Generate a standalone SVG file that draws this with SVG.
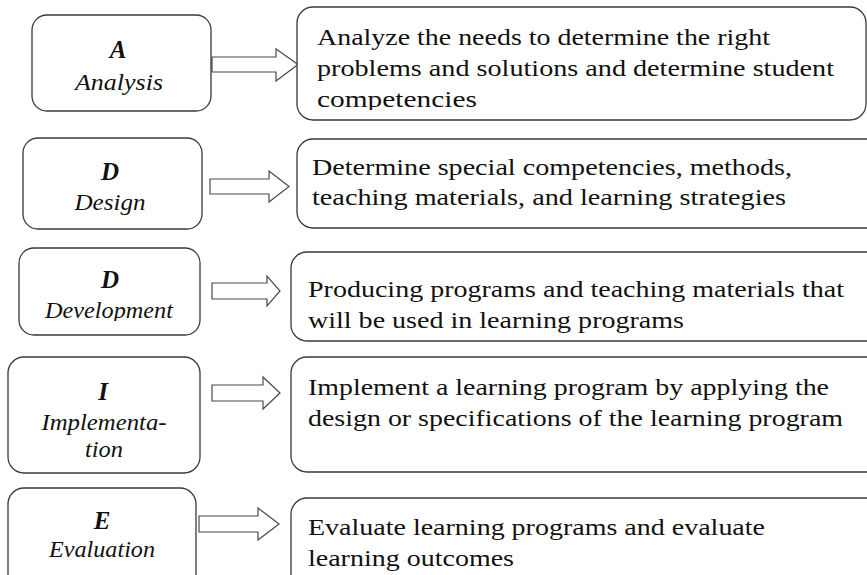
<svg xmlns="http://www.w3.org/2000/svg" width="867" height="575" viewBox="0 0 867 575">
  <style>
    .box { fill: #ffffff; stroke: #3a3a3a; stroke-width: 1.3; }
    .arrow { fill: #ffffff; stroke: #4a4a4a; stroke-width: 1.2; stroke-linejoin: miter; }
    .letter { font-family: "Liberation Serif", "DejaVu Serif", serif; font-size: 25px; font-weight: bold; font-style: italic; fill: #111; text-anchor: middle; }
    .phase { font-family: "Liberation Serif", "DejaVu Serif", serif; font-size: 23px; font-style: italic; fill: #111; text-anchor: middle; }
    .desc { font-family: "Liberation Serif", "DejaVu Serif", serif; font-size: 24px; fill: #111; }
  </style>
  <defs>
    <clipPath id="clipDev"><rect x="0" y="240" width="240" height="81"/></clipPath>
    <clipPath id="clipA3"><rect x="290" y="0" width="577" height="110"/></clipPath>
  </defs>
  <rect x="0" y="0" width="867" height="575" fill="#ffffff"/>

  <g id="connectors">
    <path class="arrow" d="M212,57 H276 V49 L298,64.5 L276,81 V72 H212 Z"/>
    <path class="arrow" d="M210,179 H269 V171 L289,186.5 L269,202 V194 H210 Z"/>
    <path class="arrow" d="M212,283 H267 V276 L280,291 L267,306 V299 H212 Z"/>
    <path class="arrow" d="M212,385 H263 V377 L280,393 L263,409 V401 H212 Z"/>
    <path class="arrow" d="M199,516 H258 V508 L279,524 L258,540 V532 H199 Z"/>
  </g>

  <g id="node-analysis">
    <rect class="box" x="32" y="15" width="179" height="96" rx="15"/>
    <text class="letter" x="118" y="58">A</text>
    <text class="phase" x="119" y="90" textLength="88" lengthAdjust="spacingAndGlyphs">Analysis</text>
  </g>
  <g id="node-design">
    <rect class="box" x="23" y="138" width="179" height="91" rx="15"/>
    <text class="letter" x="110" y="180">D</text>
    <text class="phase" x="110" y="210" textLength="71" lengthAdjust="spacingAndGlyphs">Design</text>
  </g>
  <g id="node-development">
    <rect class="box" x="19" y="248" width="181" height="87" rx="15"/>
    <text class="letter" x="110" y="288">D</text>
    <g clip-path="url(#clipDev)">
      <text class="phase" x="109" y="318" textLength="128" lengthAdjust="spacingAndGlyphs">Development</text>
    </g>
  </g>
  <g id="node-implementation">
    <rect class="box" x="8" y="357" width="192" height="116" rx="16"/>
    <text class="letter" x="103" y="400">I</text>
    <text class="phase" x="104" y="430" textLength="125" lengthAdjust="spacingAndGlyphs">Implementa-</text>
    <text class="phase" x="104" y="457" textLength="38" lengthAdjust="spacingAndGlyphs">tion</text>
  </g>
  <g id="node-evaluation">
    <rect class="box" x="8" y="488" width="188" height="110" rx="16"/>
    <text class="letter" x="102" y="529">E</text>
    <text class="phase" x="102" y="557" textLength="106" lengthAdjust="spacingAndGlyphs">Evaluation</text>
  </g>

  <g id="desc-analysis">
    <rect class="box" x="297" y="7" width="569" height="113" rx="16"/>
    <text class="desc" x="317" y="45" textLength="453" lengthAdjust="spacingAndGlyphs">Analyze the needs to determine the right</text>
    <text class="desc" x="317" y="76" textLength="517" lengthAdjust="spacingAndGlyphs">problems and solutions and determine student</text>
    <g clip-path="url(#clipA3)">
      <text class="desc" x="317" y="107" textLength="160" lengthAdjust="spacingAndGlyphs">competencies</text>
    </g>
  </g>
  <g id="desc-design">
    <rect class="box" x="297" y="139" width="600" height="89" rx="16"/>
    <text class="desc" x="312" y="175" textLength="480" lengthAdjust="spacingAndGlyphs">Determine special competencies, methods,</text>
    <text class="desc" x="312" y="205" textLength="474" lengthAdjust="spacingAndGlyphs">teaching materials, and learning strategies</text>
  </g>
  <g id="desc-development">
    <rect class="box" x="291" y="252" width="606" height="89" rx="16"/>
    <text class="desc" x="308" y="297" textLength="536" lengthAdjust="spacingAndGlyphs">Producing programs and teaching materials that</text>
    <text class="desc" x="308" y="328" textLength="376" lengthAdjust="spacingAndGlyphs">will be used in learning programs</text>
  </g>
  <g id="desc-implementation">
    <rect class="box" x="291" y="357" width="606" height="115" rx="16"/>
    <text class="desc" x="308" y="395" textLength="521" lengthAdjust="spacingAndGlyphs">Implement a learning program by applying the</text>
    <text class="desc" x="308" y="426" textLength="535" lengthAdjust="spacingAndGlyphs">design or specifications of the learning program</text>
  </g>
  <g id="desc-evaluation">
    <rect class="box" x="291" y="498" width="606" height="110" rx="16"/>
    <text class="desc" x="308" y="535" textLength="457" lengthAdjust="spacingAndGlyphs">Evaluate learning programs and evaluate</text>
    <text class="desc" x="308" y="566" textLength="206" lengthAdjust="spacingAndGlyphs">learning outcomes</text>
  </g>
</svg>
